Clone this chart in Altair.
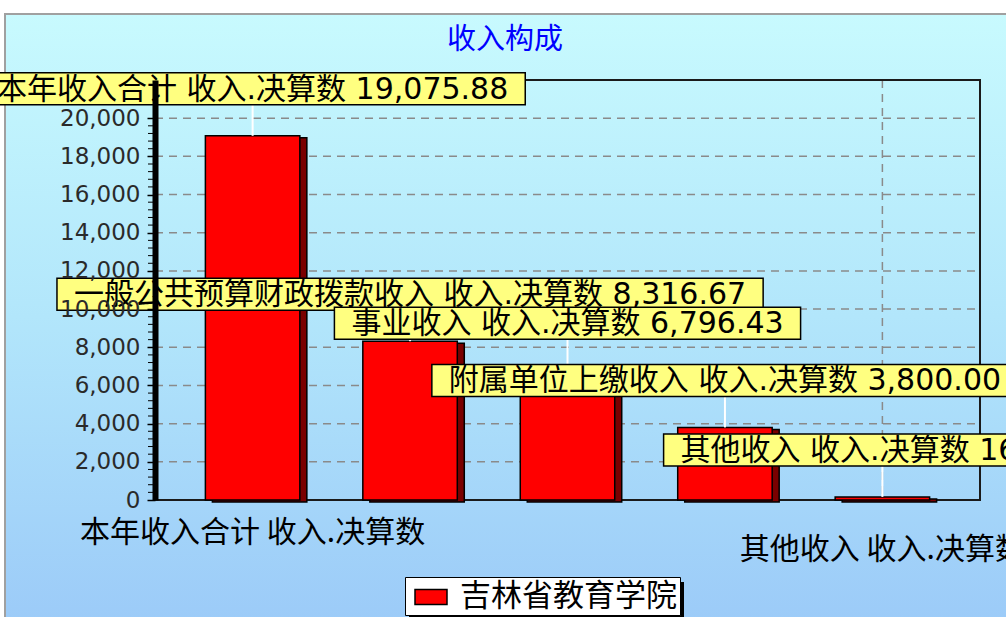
import altair as alt
import pandas as pd

# ---------------- data ----------------
title_text = "收入构成"
series_name = "吉林省教育学院"
categories = [
    "本年收入合计 收入.决算数",
    "一般公共预算财政拨款收入 收入.决算数",
    "事业收入 收入.决算数",
    "附属单位上缴收入 收入.决算数",
    "其他收入 收入.决算数",
]
values = [19075.88, 8316.67, 6796.43, 3800.00, 162.78]
y_ticks = [0, 2000, 4000, 6000, 8000, 10000, 12000, 14000, 16000, 18000, 20000]
minor_ticks = [v for v in range(0, 20001, 400) if v % 2000 != 0]
xlabel_row1 = [categories[0]]
xlabel_row2 = [categories[4]]
vgrid_cats = [categories[4]]

# ---------------- styling constants ----------------
W, H = 825, 420
YMAX = 22000
K = YMAX / H            # data units per pixel
OFF = 47                # label centre above bar top (px)
BH = 32                 # label box height (px)
LFS = 30                # label font size
CJK_FONT = "Noto Sans CJK SC"
MIX_FONT = "DejaVu Sans, Noto Sans CJK SC"


def text_width(s, fs):
    w = 0.0
    for c in s:
        if ord(c) > 0x2E80:
            w += fs
        elif c.isdigit():
            w += 0.636 * fs
        else:
            w += 0.318 * fs
    return w


labels = [f"{c} {v:,.2f}" for c, v in zip(categories, values)]
widths = [text_width(s, LFS) + 34 for s in labels]

df = pd.DataFrame({"cat": categories, "value": values, "label": labels, "w": widths,
                   "series": [series_name] * len(categories)})

xenc = alt.X("cat:N", sort=categories,
             scale=alt.Scale(paddingInner=0.4, paddingOuter=0.32), axis=None)
yscale = alt.Scale(domain=[0, YMAX], nice=False, zero=True)
yaxis = alt.Axis(values=y_ticks, labelExpr="format(datum.value, ',')", title=None, grid=False,
                 labelFont="DejaVu Sans", labelFontSize=23, labelColor="#2a2a2a",
                 labelPadding=7, tickColor="black", tickSize=8, tickWidth=1.5,
                 domainColor="black", domainWidth=6, zindex=1)


def Y(field):
    return alt.Y(field, scale=yscale, axis=yaxis)


base = alt.Chart(df)

# background gradient panel
bg = alt.Chart(pd.DataFrame({"a": [0]})).mark_rect(
    fill=alt.Gradient(gradient="linear", x1=0, y1=0, x2=0, y2=1,
                      stops=[alt.GradientStop(color="#c8fafe", offset=0),
                             alt.GradientStop(color="#b2e6fb", offset=0.5),
                             alt.GradientStop(color="#9ccbf8", offset=1)]),
    stroke="#a0a0a0", strokeWidth=2,
).encode(x=alt.value(-150), x2=alt.value(W + 30), y=alt.value(-66), y2=alt.value(H + 120))

# horizontal dashed grid
grid = alt.Chart(pd.DataFrame({"t": y_ticks})).mark_rule(
    color="#8a8a8a", strokeDash=[8, 6], strokeWidth=1.5
).encode(y=Y("t:Q"), x=alt.value(0), x2=alt.value(W))

# minor ticks on the axis
minor = alt.Chart(pd.DataFrame({"t": minor_ticks})).mark_rule(
    color="black", strokeWidth=1
).encode(y=Y("t:Q"), x=alt.value(-7), x2=alt.value(-2))

# one vertical dashed grid line
vgrid = alt.Chart(pd.DataFrame({"cat": vgrid_cats})).mark_rule(
    color="#8a8a8a", strokeDash=[8, 6], strokeWidth=1.5
).encode(x=xenc, y=alt.value(0), y2=alt.value(H))

# plot frame
frame = alt.Chart(pd.DataFrame({"a": [0]})).mark_rect(
    fillOpacity=0, stroke="#1a1a1a", strokeWidth=2
).encode(x=alt.value(0), x2=alt.value(W), y=alt.value(0), y2=alt.value(H))

# legend drop shadow
legend_shadow = alt.Chart(pd.DataFrame({"a": [0]})).mark_rect(color="black").encode(
    x=alt.value(254), x2=alt.value(529), y=alt.value(502), y2=alt.value(538))

# bar shadow (3D side)
shadow = base.mark_bar(color="#7a0000", stroke="black", strokeWidth=1.5,
                       xOffset=7, yOffset=2, y2Offset=4).encode(
    x=xenc, y=Y("value:Q"))

bars = base.mark_bar(color="#ff0000", stroke="black", strokeWidth=1.5).encode(
    x=xenc,
    y=Y("value:Q"),
    color=alt.Color("series:N",
                    scale=alt.Scale(domain=[series_name], range=["#ff0000"]),
                    legend=alt.Legend(title=None, orient="none", legendX=250, legendY=497,
                                      fillColor="white", strokeColor="black", padding=3,
                                      labelFont=CJK_FONT, labelFontSize=31, labelColor="black",
                                      labelLimit=400, labelOffset=12,
                                      symbolType="M-1,-0.47L1,-0.47L1,0.47L-1,0.47Z",
                                      symbolSize=1024, symbolStrokeColor="black",
                                      symbolStrokeWidth=1.5, symbolFillColor="#ff0000",
                                      symbolOffset=6)),
)

calc = base.transform_calculate(
    lo=f"datum.value + {(OFF - BH / 2) * K}",
    hi=f"datum.value + {(OFF + BH / 2) * K}",
    mid=f"datum.value + {OFF * K}",
)

leaders = calc.mark_rule(color="white", strokeWidth=2).encode(
    x=xenc, y=Y("value:Q"), y2="lo:Q")

boxes = calc.mark_bar(color="#ffff80", stroke="black", strokeWidth=1.5).encode(
    x=xenc, y=Y("lo:Q"), y2="hi:Q",
    size=alt.Size("w:Q", scale=None, legend=None))

texts = calc.mark_text(font=MIX_FONT, fontSize=LFS, color="black", baseline="middle",
                       dy=1).encode(
    x=xenc, y=Y("mid:Q"), text="label:N")

xl1 = alt.Chart(pd.DataFrame({"cat": xlabel_row1})).mark_text(
    font=CJK_FONT, fontSize=30, color="black", baseline="middle").encode(
    x=xenc, y=alt.value(H + 33), text="cat:N")
xl2 = alt.Chart(pd.DataFrame({"cat": xlabel_row2})).mark_text(
    font=CJK_FONT, fontSize=30, color="black", baseline="middle").encode(
    x=xenc, y=alt.value(H + 50), text="cat:N")

title = alt.Chart(pd.DataFrame({"t": [title_text]})).mark_text(
    font=CJK_FONT, fontSize=29, color="#0000ff", baseline="middle").encode(
    x=alt.value(350), y=alt.value(-40), text="t:N")

chart = alt.layer(
    bg, grid, minor, vgrid, frame, legend_shadow, shadow, bars, leaders, boxes, texts,
    xl1, xl2, title
).properties(
    width=W, height=H,
    padding={"left": 155, "top": 80, "right": 26, "bottom": 117},
    autosize=alt.AutoSizeParams(type="none"),
    background="white",
).configure_view(stroke=None)

chart.save("out.html", embed_options={"renderer": "svg", "actions": False})
